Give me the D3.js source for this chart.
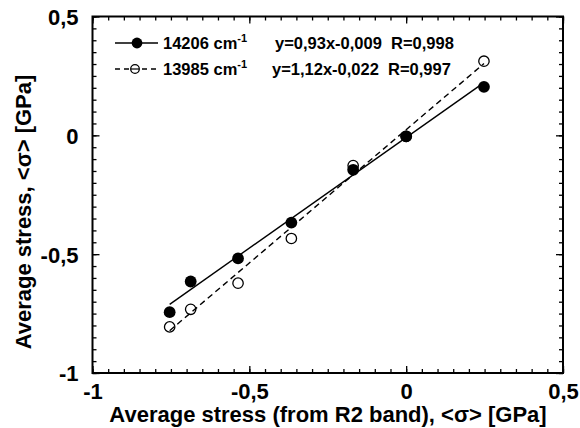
<!DOCTYPE html>
<html>
<head>
<meta charset="utf-8">
<script src="https://cdn.jsdelivr.net/npm/d3@7"></script>
<style>
  body { margin: 0; background: #fff; }
  text { font-family: "Liberation Sans", Arial, sans-serif; font-weight: bold; fill: #000; }
</style>
</head>
<body>
<div id="container"></div>
<script>
/* CONSTANTS AND GLOBALS */
const width = 580;
const height = 428;
const margin = { top: 16.5, right: 17, bottom: 55, left: 92.5 };

/* DATA */
// stress from R2 band (x), same for both series
const stressR2 = [-0.754, -0.687, -0.536, -0.366, -0.169, 0, 0.248];
// average stress, 14206 cm-1 band (filled)
const stress14206 = [-0.744, -0.615, -0.518, -0.367, -0.145, -0.004, 0.204];
// average stress, 13985 cm-1 band (open)
const stress13985 = [-0.806, -0.732, -0.622, -0.434, -0.127, -0.004, 0.312];
// fitted lines, end points
const fitX = [-0.754, 0.248];
const fit14206 = [-0.711, 0.222];
const fit13985 = [-0.822, 0.302];

const tickValues = [-1, -0.5, 0, 0.5];
const tickLabels = ["-1", "-0,5", "0", "0,5"];
const legendNames = ["14206 cm", "13985 cm"];
const legendFits = ["y=0,93x-0,009  R=0,998", "y=1,12x-0,022  R=0,997"];

/* SCALES */
const xScale = d3.scaleLinear()
  .domain([-1, 0.5])
  .range([margin.left, width - margin.right]);

const yScale = d3.scaleLinear()
  .domain([-1, 0.5])
  .range([height - margin.bottom, margin.top]);

const minorTicks = d3.range(-1, 0.5001, 0.05).map(d => Math.round(d * 100) / 100);
const fmt = d => tickLabels[tickValues.indexOf(d)];

/* HTML ELEMENTS */
const svg = d3.select("#container")
  .append("svg")
  .attr("width", width)
  .attr("height", height);

const x0 = xScale.range()[0], x1 = xScale.range()[1];
const y0 = yScale.range()[0], y1 = yScale.range()[1];

// minor ticks, inward, all sides
svg.append("g").attr("transform", `translate(0,${y0})`)
  .call(d3.axisBottom(xScale).tickValues(minorTicks).tickSize(-4).tickFormat(""));
svg.append("g").attr("transform", `translate(0,${y1})`)
  .call(d3.axisTop(xScale).tickValues(minorTicks).tickSize(-4).tickFormat(""));
svg.append("g").attr("transform", `translate(${x0},0)`)
  .call(d3.axisLeft(yScale).tickValues(minorTicks).tickSize(-4).tickFormat(""));
svg.append("g").attr("transform", `translate(${x1},0)`)
  .call(d3.axisRight(yScale).tickValues(minorTicks).tickSize(-4).tickFormat(""));

// major ticks with labels
svg.append("g").attr("class", "xmajor").attr("transform", `translate(0,${y0})`)
  .call(d3.axisBottom(xScale).tickValues(tickValues).tickSize(-7).tickPadding(10).tickFormat(fmt));
svg.append("g").attr("transform", `translate(0,${y1})`)
  .call(d3.axisTop(xScale).tickValues(tickValues).tickSize(-7).tickFormat(""));
svg.append("g").attr("class", "ymajor").attr("transform", `translate(${x0},0)`)
  .call(d3.axisLeft(yScale).tickValues(tickValues).tickSize(-7).tickPadding(14).tickFormat(fmt));
svg.append("g").attr("transform", `translate(${x1},0)`)
  .call(d3.axisRight(yScale).tickValues(tickValues).tickSize(-7).tickFormat(""));

svg.selectAll(".domain").remove();
svg.selectAll(".tick line").attr("stroke", "#000").attr("stroke-width", 1.3);
svg.selectAll(".xmajor text, .ymajor text")
  .style("font-size", "22px")
  .style("font-family", "'Liberation Sans', Arial, sans-serif")
  .style("font-weight", "bold");
svg.selectAll(".ymajor text").attr("dy", "0.36em");

// frame
svg.append("rect")
  .attr("x", x0).attr("y", y1)
  .attr("width", x1 - x0).attr("height", y0 - y1)
  .attr("fill", "none").attr("stroke", "#000").attr("stroke-width", 2);

// series
const pts14206 = stressR2.map((d, i) => [d, stress14206[i]]);
const pts13985 = stressR2.map((d, i) => [d, stress13985[i]]);
const line = d3.line().x(d => xScale(d[0])).y(d => yScale(d[1]));

svg.selectAll(".open")
  .data(pts13985)
  .join("circle")
  .attr("class", "open")
  .attr("cx", d => xScale(d[0]))
  .attr("cy", d => yScale(d[1]))
  .attr("r", 5.2)
  .attr("fill", "#fff")
  .attr("stroke", "#000")
  .attr("stroke-width", 1.3);

svg.append("path")
  .datum(fitX.map((d, i) => [d, fit13985[i]]))
  .attr("d", line)
  .attr("fill", "none").attr("stroke", "#000")
  .attr("stroke-width", 1.4).attr("stroke-dasharray", "6,4");

svg.append("path")
  .datum(fitX.map((d, i) => [d, fit14206[i]]))
  .attr("d", line)
  .attr("fill", "none").attr("stroke", "#000")
  .attr("stroke-width", 1.4);

svg.selectAll(".filled")
  .data(pts14206)
  .join("circle")
  .attr("class", "filled")
  .attr("cx", d => xScale(d[0]))
  .attr("cy", d => yScale(d[1]))
  .attr("r", 5.9)
  .attr("fill", "#000");

// legend
const legendY = [43, 69];
legendY.forEach((ly, i) => {
  svg.append("line")
    .attr("x1", 115).attr("x2", 158).attr("y1", ly).attr("y2", ly)
    .attr("stroke", "#000").attr("stroke-width", 1.4)
    .attr("stroke-dasharray", i === 0 ? null : "5,4");
  if (i === 0) {
    svg.append("circle").attr("cx", 137).attr("cy", ly).attr("r", 5.4).attr("fill", "#000");
  } else {
    svg.append("circle").attr("cx", 135).attr("cy", ly).attr("r", 4.3)
      .attr("fill", "#fff").attr("stroke", "#000").attr("stroke-width", 1.3);
    svg.append("line").attr("x1", 131).attr("x2", 139).attr("y1", ly).attr("y2", ly)
      .attr("stroke", "#000").attr("stroke-width", 1.2);
  }
  const t = svg.append("text")
    .attr("x", 163).attr("y", ly + 6)
    .style("font-size", "16.5px");
  t.append("tspan").text(legendNames[i]);
  t.append("tspan").attr("dy", -7).style("font-size", "11px").text("-1");
  svg.append("text")
    .attr("x", i === 0 ? 275 : 272).attr("y", ly + 6)
    .style("font-size", "16.5px")
    .attr("xml:space", "preserve")
    .text(legendFits[i]);
});

// axis titles
svg.append("text")
  .attr("x", 328).attr("y", 422)
  .attr("text-anchor", "middle")
  .style("font-size", "22px")
  .text("Average stress (from R2 band), <σ> [GPa]");

svg.append("text")
  .attr("transform", "translate(31,212) rotate(-90)")
  .attr("text-anchor", "middle")
  .style("font-size", "22px")
  .text("Average stress, <σ> [GPa]");
</script>
</body>
</html>
